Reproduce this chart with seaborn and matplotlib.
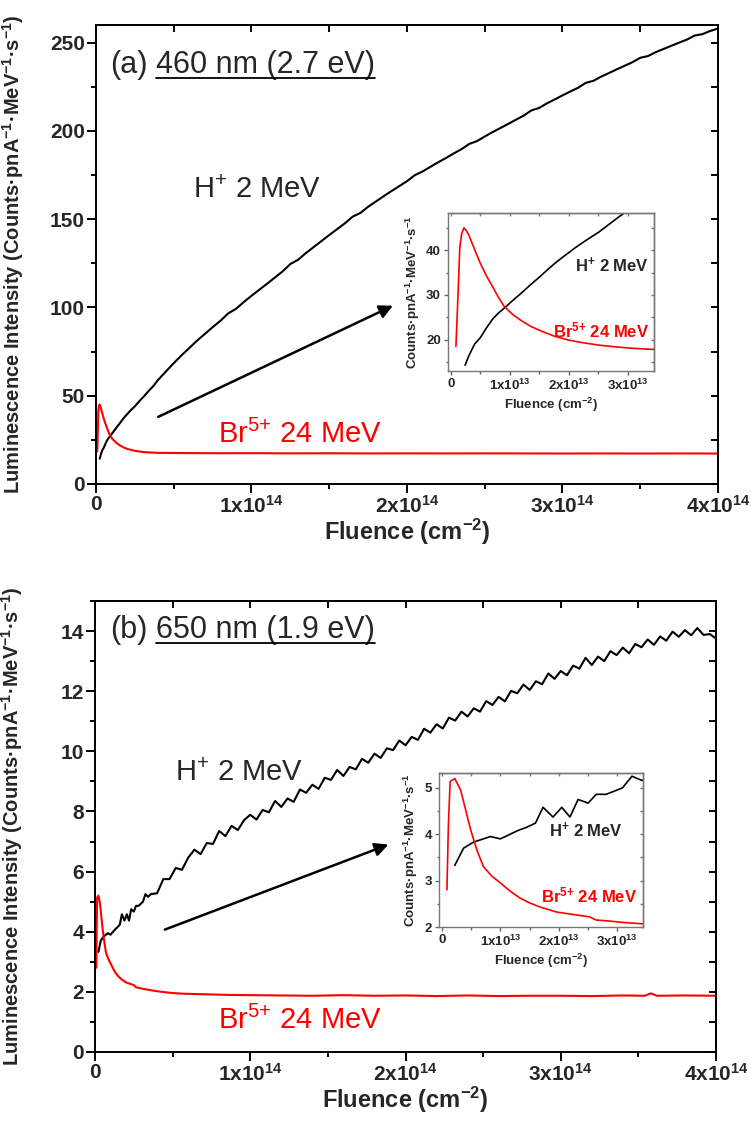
#!/usr/bin/env python3
"""
Luminescence intensity vs fluence for H+ 2 MeV and Br5+ 24 MeV irradiation,
two emission bands (460 nm and 650 nm), each with a low-fluence inset.
"""

import numpy as np
import matplotlib
matplotlib.use("Agg")
import matplotlib.pyplot as plt
from matplotlib.lines import Line2D
from matplotlib.ticker import MultipleLocator, NullFormatter
import seaborn as sns

# ---------------------------------------------------------------- data
# fluence values in units of 1e14 cm^-2

# (a) 460 nm band
A_H_X = [0.024, 0.03, 0.04, 0.05, 0.06, 0.07, 0.08, 0.09, 0.105, 0.12, 0.135, 0.15,
         0.165, 0.18, 0.195, 0.21, 0.23, 0.25, 0.27, 0.285, 0.31, 0.34, 0.37, 0.40,
         0.44, 0.48, 0.52, 0.56, 0.60, 0.65, 0.70, 0.75, 0.80, 0.85, 0.90, 0.95,
         1.00, 1.05, 1.10, 1.15, 1.20, 1.25, 1.30, 1.35, 1.40, 1.45, 1.50, 1.55,
         1.60, 1.65, 1.70, 1.75, 1.80, 1.85, 1.90, 1.95, 2.00, 2.05, 2.10, 2.15,
         2.20, 2.25, 2.30, 2.35, 2.40, 2.45, 2.50, 2.55, 2.60, 2.65, 2.70, 2.75,
         2.80, 2.85, 2.90, 2.95, 3.00, 3.05, 3.10, 3.15, 3.20, 3.25, 3.30, 3.35,
         3.40, 3.45, 3.50, 3.55, 3.60, 3.65, 3.70, 3.75, 3.80, 3.85, 3.90, 3.95, 4.00]
A_H_Y = [14.3, 16.3, 19.0, 20.5, 22.6, 24.5, 25.9, 27.0, 28.8, 30.5, 32.3, 34.0,
         35.8, 37.5, 39.0, 40.5, 42.3, 44.0, 46.0, 47.5, 49.8, 52.8, 55.6, 59.0,
         62.8, 66.6, 70.2, 73.7, 77.0, 81.2, 85.0, 88.8, 92.4, 96.6, 99.2, 103.0,
         106.6, 110.0, 113.4, 116.9, 120.4, 124.6, 127.0, 130.8, 134.2, 137.6, 141.0, 144.3,
         147.6, 151.4, 153.5, 157.0, 160.0, 163.0, 165.9, 168.7, 171.5, 174.9, 177.0, 179.6,
         182.2, 184.6, 187.2, 189.6, 192.6, 194.2, 196.8, 199.3, 201.6, 203.9, 206.3, 208.6,
         211.6, 213.0, 215.6, 217.8, 220.1, 222.3, 224.4, 227.2, 228.4, 230.8, 232.8, 234.9,
         236.9, 238.9, 241.4, 242.4, 244.6, 246.4, 248.2, 250.0, 251.7, 254.0, 254.8, 256.6, 258.0]

A_BR_X = [0.0085, 0.012, 0.015, 0.018, 0.022, 0.026, 0.03, 0.04, 0.05, 0.06, 0.07,
          0.08, 0.09, 0.105, 0.12, 0.135, 0.15, 0.175, 0.20, 0.225, 0.25, 0.275, 0.30,
          0.325, 0.35, 0.40, 0.50, 0.60, 0.80, 1.00, 1.25, 1.50, 1.75, 2.00, 2.25,
          2.50, 2.75, 3.00, 3.25, 3.50, 3.75, 4.00]
A_BR_Y = [18.5, 30.0, 40.5, 43.6, 45.0, 44.4, 43.5, 40.2, 37.0, 34.3, 32.0,
          29.6, 27.5, 25.6, 24.2, 23.0, 22.1, 20.8, 19.9, 19.3, 18.8, 18.45, 18.15,
          17.95, 17.8, 17.65, 17.55, 17.5, 17.4, 17.45, 17.35, 17.4, 17.3, 17.35, 17.3,
          17.35, 17.3, 17.25, 17.3, 17.25, 17.3, 17.25]

# (b) 650 nm band
B_H_X = [0.022, 0.037, 0.054, 0.083, 0.10, 0.13, 0.145, 0.16, 0.173, 0.19, 0.205,
         0.219, 0.233, 0.25, 0.264, 0.281, 0.309, 0.325, 0.342,
         0.36, 0.40, 0.44, 0.48, 0.52, 0.56, 0.60, 0.64, 0.68, 0.72, 0.76, 0.80,
         0.84, 0.88, 0.92, 0.96, 1.00, 1.04, 1.08, 1.12, 1.16, 1.20, 1.24, 1.28,
         1.32, 1.36, 1.40, 1.44, 1.48, 1.52, 1.56, 1.60, 1.64, 1.68, 1.72, 1.76,
         1.80, 1.84, 1.88, 1.92, 1.96, 2.00, 2.04, 2.08, 2.12, 2.16, 2.20, 2.24,
         2.28, 2.32, 2.36, 2.40, 2.44, 2.48, 2.52, 2.56, 2.60, 2.64, 2.68, 2.72,
         2.76, 2.80, 2.84, 2.88, 2.92, 2.96, 3.00, 3.04, 3.08, 3.12, 3.16, 3.20,
         3.24, 3.28, 3.32, 3.36, 3.40, 3.44, 3.48, 3.52, 3.56, 3.60, 3.64, 3.68,
         3.72, 3.76, 3.80, 3.84, 3.88, 3.92, 3.96, 4.00]
B_H_Y = [3.33, 3.70, 3.83, 3.95, 3.90, 4.08, 4.15, 4.24, 4.58, 4.37, 4.58,
         4.37, 4.75, 4.67, 4.86, 4.86, 5.00, 5.25, 5.16,
         5.25, 5.28, 5.75, 5.75, 6.12, 6.06, 6.46, 6.73, 6.58, 6.95, 6.92, 7.35,
         7.18, 7.52, 7.38, 7.71, 7.89, 7.73, 8.05, 7.97, 8.35, 8.15, 8.43, 8.32,
         8.73, 8.62, 8.89, 8.75, 9.12, 9.05, 9.38, 9.18, 9.48, 9.40, 9.75, 9.62,
         9.92, 9.78, 10.10, 10.04, 10.36, 10.20, 10.48, 10.38, 10.75, 10.62, 10.90, 10.76,
         11.12, 11.02, 11.32, 11.16, 11.43, 11.32, 11.67, 11.54, 11.81, 11.66, 12.01, 11.93,
         12.22, 12.04, 12.33, 12.23, 12.59, 12.41, 12.67, 12.53, 12.85, 12.75, 13.11, 12.87,
         13.15, 13.00, 13.33, 13.20, 13.45, 13.26, 13.57, 13.46, 13.72, 13.54, 13.82, 13.68,
         13.98, 13.81, 14.03, 13.86, 14.10, 13.87, 13.90, 13.75]

B_BR_X = [0.0085, 0.011, 0.014, 0.022, 0.032, 0.04, 0.049, 0.06, 0.071, 0.085, 0.10,
          0.117, 0.134, 0.15, 0.168, 0.197, 0.23, 0.252, 0.264, 0.285, 0.308, 0.342,
          0.40, 0.48, 0.56, 0.70, 0.85, 1.00, 1.20, 1.40, 1.60, 1.80, 2.00, 2.20,
          2.40, 2.60, 2.80, 3.00, 3.20, 3.40, 3.54, 3.58, 3.62, 3.80, 4.00]
B_BR_Y = [2.80, 4.20, 5.14, 5.20, 4.95, 4.55, 4.10, 3.65, 3.30, 3.10, 2.95,
          2.77, 2.62, 2.52, 2.43, 2.32, 2.26, 2.22, 2.15, 2.13, 2.10, 2.07,
          2.02, 1.97, 1.94, 1.92, 1.90, 1.89, 1.88, 1.87, 1.89, 1.87, 1.88, 1.86,
          1.88, 1.86, 1.87, 1.87, 1.86, 1.88, 1.87, 1.95, 1.87, 1.88, 1.87]

# ticks / labels
MAIN_XTICKS = [0, 1, 2, 3, 4]
MAIN_XTICK_LABELS = ["0", r"$\mathbf{1x10^{14}}$", r"$\mathbf{2x10^{14}}$",
                     r"$\mathbf{3x10^{14}}$", r"$\mathbf{4x10^{14}}$"]
INSET_XTICKS = [0, 1, 2, 3]
INSET_XTICK_LABELS = ["0", r"$\mathbf{1x10^{13}}$", r"$\mathbf{2x10^{13}}$",
                      r"$\mathbf{3x10^{13}}$"]
A_YTICKS = [0, 50, 100, 150, 200, 250]
B_YTICKS = [0, 2, 4, 6, 8, 10, 12, 14]
A_INSET_YTICKS = [20, 30, 40]
B_INSET_YTICKS = [2, 3, 4, 5]

H_LABEL = r"H$^{\mathrm{{+}}}$ 2 MeV"
BR_LABEL = r"Br$^{\mathrm{5{+}}}$ 24 MeV"
H_LABEL_BOLD = r"H$^{\mathbf{{+}}}$ 2 MeV"
BR_LABEL_BOLD = r"Br$^{\mathbf{5{+}}}$ 24 MeV"
XLABEL = r"Fluence (cm$^{\mathbf{{-}2}}$)"
YLABEL = (r"Luminescence Intensity (Counts·pnA$^{\mathbf{{-}1}}$·MeV$^{\mathbf{{-}1}}$"
          r"·s$^{\mathbf{{-}1}}$)")
INSET_YLABEL = r"Counts·pnA$^{\mathbf{{-}1}}$·MeV$^{\mathbf{{-}1}}$·s$^{\mathbf{{-}1}}$"

RED = "#ff0000"
E14 = 1e14


def mirror_ticks(ax, xstep, ystep, length, width, color):
    """Inward ticks on top/right, as in Origin plots"""
    top = ax.secondary_xaxis("top")
    top.xaxis.set_major_locator(MultipleLocator(xstep))
    top.xaxis.set_major_formatter(NullFormatter())
    top.tick_params(direction="in", length=length, width=width, color=color)
    right = ax.secondary_yaxis("right")
    right.yaxis.set_major_locator(MultipleLocator(ystep))
    right.yaxis.set_major_formatter(NullFormatter())
    right.tick_params(direction="in", length=length, width=width, color=color)
    for sec in (top, right):
        for sp in sec.spines.values():
            sp.set_linewidth(width)
            sp.set_color(color)


def panel_title(fig, ax, x, y, tag, band):
    """'(a) 460 nm (2.7 eV)' with the wavelength part underlined"""
    renderer = fig.canvas.get_renderer()
    t1 = ax.text(x, y, tag, transform=ax.transAxes, fontsize=22, va="center", ha="left")
    bb1 = t1.get_window_extent(renderer)
    gap = 0.278 * 22 * fig.dpi / 72
    x2 = ax.transAxes.inverted().transform((bb1.x1 + gap, bb1.y0))[0]
    t2 = ax.text(x2, y, band, transform=ax.transAxes, fontsize=22, va="center", ha="left")
    bb2 = t2.get_window_extent(renderer)
    inv = fig.transFigure.inverted()
    (fx0, fy), (fx1, _) = inv.transform([(bb2.x0, bb2.y0 + 2), (bb2.x1, bb2.y0 + 2)])
    fig.add_artist(Line2D([fx0, fx1], [fy, fy], color="black", lw=1.3))


def draw_main(fig, rect, hx, hy, bx, by, ylim, yticks, yminor, xlabel_y):
    ax = fig.add_axes(rect)
    sns.lineplot(x=np.array(hx) * E14, y=hy, ax=ax, color="black", linewidth=1.5,
                 estimator=None, sort=False)
    sns.lineplot(x=np.array(bx) * E14, y=by, ax=ax, color=RED, linewidth=1.5,
                 estimator=None, sort=False)
    ax.set_xlim(0, 4 * E14)
    ax.set_ylim(*ylim)
    ax.set_xticks([t * E14 for t in MAIN_XTICKS], MAIN_XTICK_LABELS)
    ax.set_yticks(yticks, [str(v) for v in yticks])
    ax.xaxis.set_minor_locator(MultipleLocator(0.5 * E14))
    ax.yaxis.set_minor_locator(MultipleLocator(yminor))
    ax.tick_params(which="major", direction="out", length=6.5, width=1.4,
                   labelsize=15, color="black", pad=1.5)
    ax.tick_params(which="minor", direction="out", length=3.6, width=1.4, color="black")
    for lab in ax.get_xticklabels() + ax.get_yticklabels():
        lab.set_fontweight("bold")
    for sp in ax.spines.values():
        sp.set_linewidth(1.4)
        sp.set_color("black")
    mirror_ticks(ax, 0.5 * E14, yminor, 5, 1.4, "black")
    ax.set_xlabel(XLABEL, fontsize=17, fontweight="bold")
    ax.xaxis.set_label_coords(0.5, xlabel_y)
    ax.set_ylabel(YLABEL, fontsize=14.5, fontweight="bold")
    ax.yaxis.set_label_coords(-0.113, 0.5)
    return ax


def draw_inset(fig, rect, hx, hy, bx, by, ylim, yticks, yminor):
    ins = fig.add_axes(rect)
    sns.lineplot(x=np.array(hx) * E14, y=hy, ax=ins, color="black", linewidth=1.2,
                 estimator=None, sort=False)
    sns.lineplot(x=np.array(bx) * E14, y=by, ax=ins, color=RED, linewidth=1.2,
                 estimator=None, sort=False)
    ins.set_xlim(-0.05e13, 3.44e13)
    ins.set_ylim(*ylim)
    ins.set_xticks([t * 1e13 for t in INSET_XTICKS], INSET_XTICK_LABELS)
    ins.set_yticks(yticks, [str(v) for v in yticks])
    ins.xaxis.set_minor_locator(MultipleLocator(0.5e13))
    ins.yaxis.set_minor_locator(MultipleLocator(yminor))
    ins.tick_params(which="major", direction="out", length=3, width=1.0,
                    labelsize=9.5, color="#666666", pad=2)
    ins.tick_params(which="minor", direction="out", length=1.8, width=1.0, color="#666666")
    for lab in ins.get_xticklabels() + ins.get_yticklabels():
        lab.set_fontweight("bold")
    for sp in ins.spines.values():
        sp.set_linewidth(1.0)
        sp.set_color("#777777")
    mirror_ticks(ins, 0.5e13, yminor, 2.5, 1.0, "#777777")
    ins.set_xlabel(r"Fluence (cm$^{\mathbf{{-}2}}$)", fontsize=9.5, fontweight="bold",
                   labelpad=2)
    ins.set_ylabel(INSET_YLABEL, fontsize=9.5, fontweight="bold", labelpad=3)
    return ins


def main():
    sns.set_theme(style="ticks")
    plt.rcParams["font.family"] = ["Liberation Sans", "DejaVu Sans"]
    plt.rcParams["mathtext.fontset"] = "custom"
    plt.rcParams["mathtext.rm"] = "Liberation Sans"
    plt.rcParams["mathtext.it"] = "Liberation Sans:italic"
    plt.rcParams["mathtext.bf"] = "Liberation Sans:bold"

    fig = plt.figure(figsize=(7.51, 11.25), dpi=100)
    fig.patch.set_facecolor("white")

    # ---- panel (a)
    ax_a = draw_main(fig, [0.1278, 0.5698, 0.8282, 0.4080], A_H_X, A_H_Y, A_BR_X, A_BR_Y,
                     (0, 260), A_YTICKS, 25, -0.072)
    ax_a.text(0.156, 0.640, H_LABEL, transform=ax_a.transAxes, fontsize=21, va="center")
    ax_a.text(0.196, 0.107, BR_LABEL, transform=ax_a.transAxes, fontsize=21,
              va="center", color=RED)
    ax_a.annotate("", xy=(1.91 * E14, 101), xytext=(0.40 * E14, 38),
                  arrowprops=dict(arrowstyle="-|>", color="black", lw=1.8,
                                  mutation_scale=20, shrinkA=0, shrinkB=0))
    ins_a = draw_inset(fig, [0.5965, 0.6702, 0.2743, 0.1404], A_H_X, A_H_Y, A_BR_X, A_BR_Y,
                       (13, 48.3), A_INSET_YTICKS, 5)
    ins_a.text(0.976, 0.671, H_LABEL_BOLD, transform=ins_a.transAxes, fontsize=12,
               fontweight="bold", va="center", ha="right")
    ins_a.text(0.976, 0.26, BR_LABEL_BOLD, transform=ins_a.transAxes, fontsize=12,
               fontweight="bold", va="center", ha="right", color=RED)

    # ---- panel (b)
    ax_b = draw_main(fig, [0.1265, 0.0649, 0.8269, 0.4009], B_H_X, B_H_Y, B_BR_X, B_BR_Y,
                     (0, 15), B_YTICKS, 1, -0.072)
    ax_b.text(0.129, 0.619, H_LABEL, transform=ax_b.transAxes, fontsize=21, va="center")
    ax_b.text(0.198, 0.071, BR_LABEL, transform=ax_b.transAxes, fontsize=21,
              va="center", color=RED)
    ax_b.annotate("", xy=(1.89 * E14, 6.9), xytext=(0.45 * E14, 4.07),
                  arrowprops=dict(arrowstyle="-|>", color="black", lw=1.8,
                                  mutation_scale=20, shrinkA=0, shrinkB=0))
    ins_b = draw_inset(fig, [0.5846, 0.1760, 0.2716, 0.1369], B_H_X, B_H_Y, B_BR_X, B_BR_Y,
                       (2.0, 5.32), B_INSET_YTICKS, 0.5)
    ins_b.text(0.902, 0.63, H_LABEL_BOLD, transform=ins_b.transAxes, fontsize=12,
               fontweight="bold", va="center", ha="right")
    ins_b.text(0.97, 0.208, BR_LABEL_BOLD, transform=ins_b.transAxes, fontsize=12,
               fontweight="bold", va="center", ha="right", color=RED)

    panel_title(fig, ax_a, 0.0225, 0.913, "(a)", "460 nm (2.7 eV)")
    panel_title(fig, ax_b, 0.024, 0.936, "(b)", "650 nm (1.9 eV)")

    fig.savefig("out.png", dpi=100)
    plt.close(fig)


if __name__ == "__main__":
    main()
